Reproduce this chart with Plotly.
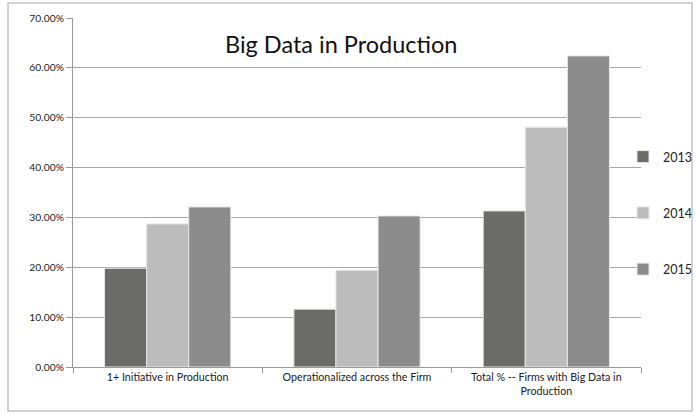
import plotly.graph_objects as go

categories = [
    "1+ Initiative in Production",
    "Operationalized across the Firm",
    "Total % -- Firms with Big Data in<br>Production",
]
years = ["2013", "2014", "2015"]
values_2013 = [0.198, 0.116, 0.313]
values_2014 = [0.287, 0.194, 0.481]
values_2015 = [0.321, 0.303, 0.624]
tick_vals = [0, 0.1, 0.2, 0.3, 0.4, 0.5, 0.6, 0.7]
tick_text = ["0.00%", "10.00%", "20.00%", "30.00%", "40.00%", "50.00%", "60.00%", "70.00%"]

colors = ["#6b6b6a", "#bcbcbc", "#8c8c8c"]
series = [values_2013, values_2014, values_2015]

fig = go.Figure()
for yr, vals, col in zip(years, series, colors):
    fig.add_trace(go.Bar(
        x=categories, y=vals, name=yr, legendgroup=yr,
        marker=dict(color=col, line=dict(color="#e8e8e8", width=1)),
    ))

W, H = 698, 414
L, R, T, B = 73, 57, 18, 47
pw, ph = W - L - R, H - T - B

def px_x(p):
    return (p - L) / pw

def px_y(p):
    return (H - B - p) / ph

fig.update_layout(
    width=W, height=H,
    margin=dict(l=L, r=R, t=T, b=B, autoexpand=False),
    paper_bgcolor="white", plot_bgcolor="white",
    barmode="group", bargap=0.333, bargroupgap=0,
    font=dict(family="Lato, Carlito, sans-serif", color="#333333"),
    showlegend=True,
    legend=dict(
        x=px_x(697), y=px_y(142), xanchor="right", yanchor="top",
        font=dict(size=12.5, color="#222222"),
        tracegroupgap=37, itemwidth=30,
        bgcolor="rgba(0,0,0,0)",
    ),
    annotations=[dict(
        text="Big Data in Production", x=px_x(341), y=px_y(44),
        xref="paper", yref="paper", xanchor="center", yanchor="middle",
        showarrow=False, font=dict(size=23.5, color="#111111"),
    )],
    shapes=[dict(
        type="rect", xref="paper", yref="paper",
        x0=px_x(8), x1=px_x(692), y0=px_y(411), y1=px_y(3),
        line=dict(color="#c4c4c4", width=1.5), layer="below",
    )],
)
fig.update_xaxes(
    showline=True, linecolor="#9a9a9a", linewidth=1,
    ticks="outside", tickson="boundaries", ticklen=5, tickcolor="#9a9a9a",
    tickfont=dict(size=10.7, color="#222222"), range=[-0.5, 2.5],
)
fig.update_yaxes(
    range=[0, 0.7], tickvals=tick_vals, ticktext=tick_text,
    showline=True, linecolor="#9a9a9a", linewidth=1,
    ticks="outside", ticklen=6, tickcolor="#9a9a9a",
    showgrid=True, gridcolor="#a8a8a8", gridwidth=1,
    tickfont=dict(size=10.3, color="#222222"), zeroline=False,
)

fig.write_html("out.html")
